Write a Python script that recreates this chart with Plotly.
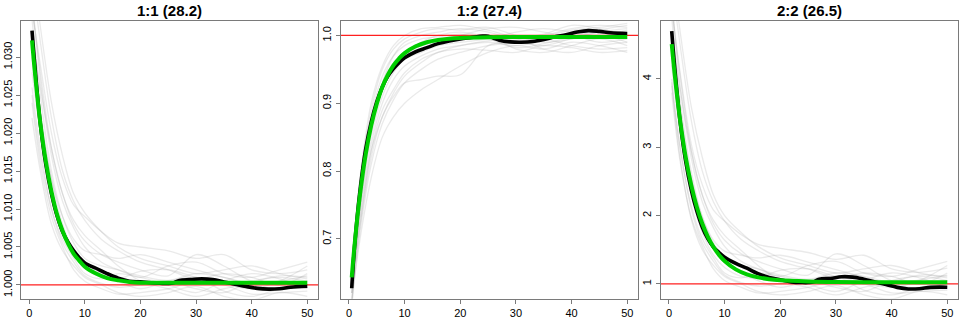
import plotly.graph_objects as go

# ---------------- data ----------------
titles = ["1:1 (28.2)", "1:2 (27.4)", "2:2 (26.5)"]
ref_level = [1.0, 1.0, 1.0]

x_gray = [0.5, 2, 4, 6, 8, 10, 13, 16, 20, 25, 30, 35, 40, 45, 50]

gray_11 = [
    [1.0380, 1.0270, 1.0170, 1.0110, 1.0075, 1.0050, 1.0030, 1.0020, 1.0012, 1.0006, 1.0015, 1.0010, 1.0002, 1.0005, 1.0012],
    [1.0360, 1.0290, 1.0200, 1.0140, 1.0105, 1.0090, 1.0070, 1.0055, 1.0050, 1.0045, 1.0035, 1.0040, 1.0020, 1.0015, 1.0020],
    [1.0300, 1.0220, 1.0140, 1.0090, 1.0060, 1.0045, 1.0040, 1.0035, 1.0040, 1.0030, 1.0020, 1.0010, 1.0000, 0.9995, 1.0000],
    [1.0260, 1.0180, 1.0100, 1.0055, 1.0030, 1.0012, 1.0002, 0.9997, 1.0000, 1.0005, 0.9995, 0.9990, 1.0005, 1.0010, 1.0005],
    [1.0240, 1.0160, 1.0090, 1.0050, 1.0020, 1.0005, 0.9995, 0.9988, 0.9990, 0.9995, 1.0005, 1.0000, 0.9988, 0.9990, 0.9992],
    [1.0400, 1.0320, 1.0220, 1.0150, 1.0110, 1.0085, 1.0060, 1.0045, 1.0030, 1.0020, 1.0008, 1.0015, 1.0010, 1.0000, 1.0015],
    [1.0350, 1.0250, 1.0150, 1.0090, 1.0055, 1.0035, 1.0025, 1.0020, 1.0010, 1.0025, 1.0030, 1.0015, 1.0010, 1.0020, 1.0030],
    [1.0220, 1.0150, 1.0080, 1.0045, 1.0025, 1.0010, 1.0000, 0.9990, 0.9985, 0.9990, 0.9998, 0.9985, 0.9980, 0.9990, 0.9985],
    [1.0330, 1.0260, 1.0180, 1.0120, 1.0080, 1.0058, 1.0040, 1.0030, 1.0020, 1.0012, 1.0040, 1.0025, 1.0005, 1.0000, 1.0005],
    [1.0370, 1.0280, 1.0180, 1.0120, 1.0085, 1.0065, 1.0045, 1.0025, 1.0005, 0.9995, 0.9985, 0.9995, 1.0003, 1.0012, 1.0010],
    [1.0280, 1.0200, 1.0120, 1.0070, 1.0040, 1.0022, 1.0010, 1.0008, 1.0018, 1.0020, 1.0010, 1.0002, 0.9995, 1.0005, 1.0025],
    [1.0420, 1.0340, 1.0240, 1.0170, 1.0120, 1.0095, 1.0070, 1.0050, 1.0035, 1.0025, 1.0015, 1.0020, 1.0025, 1.0015, 1.0008],
    [1.0310, 1.0230, 1.0140, 1.0080, 1.0045, 1.0028, 1.0015, 1.0005, 0.9995, 1.0005, 1.0010, 0.9992, 0.9985, 0.9995, 1.0000],
    [1.0250, 1.0170, 1.0100, 1.0060, 1.0035, 1.0015, 1.0008, 1.0015, 1.0010, 1.0000, 0.9990, 1.0005, 1.0015, 1.0008, 0.9995],
]

gray_12 = [
    [0.600, 0.740, 0.860, 0.930, 0.970, 0.990, 1.000, 1.005, 1.010, 1.005, 0.995, 1.000, 1.010, 1.015, 1.012],
    [0.620, 0.720, 0.820, 0.880, 0.910, 0.930, 0.935, 0.940, 0.942, 0.985, 0.990, 0.985, 0.995, 1.000, 0.990],
    [0.650, 0.780, 0.890, 0.950, 0.980, 0.995, 1.005, 1.010, 1.008, 1.012, 1.000, 0.990, 0.995, 1.005, 1.010],
    [0.610, 0.700, 0.790, 0.850, 0.880, 0.900, 0.920, 0.935, 0.955, 0.975, 0.985, 0.980, 0.990, 0.985, 0.975],
    [0.640, 0.760, 0.860, 0.920, 0.950, 0.970, 0.985, 0.990, 0.995, 1.000, 0.980, 0.975, 0.985, 0.995, 0.985],
    [0.630, 0.750, 0.850, 0.910, 0.945, 0.965, 0.975, 0.985, 0.990, 0.995, 1.005, 1.010, 1.005, 1.000, 1.008],
    [0.660, 0.790, 0.900, 0.955, 0.985, 1.000, 1.010, 1.012, 1.015, 1.008, 0.998, 1.002, 1.015, 1.010, 1.000],
    [0.600, 0.710, 0.810, 0.870, 0.905, 0.930, 0.950, 0.965, 0.975, 0.985, 0.990, 0.995, 0.985, 0.980, 0.982],
    [0.620, 0.740, 0.840, 0.900, 0.935, 0.955, 0.970, 0.980, 0.985, 0.990, 0.985, 0.992, 1.000, 0.990, 0.995],
    [0.640, 0.770, 0.880, 0.940, 0.970, 0.985, 0.995, 0.998, 1.002, 0.995, 0.982, 0.988, 0.998, 1.008, 1.015],
    [0.630, 0.730, 0.830, 0.880, 0.915, 0.940, 0.960, 0.975, 0.980, 0.978, 0.975, 0.985, 0.982, 0.975, 0.978],
    [0.650, 0.770, 0.870, 0.930, 0.960, 0.975, 0.985, 0.995, 1.000, 1.010, 1.012, 1.005, 0.998, 1.005, 1.002],
    [0.610, 0.750, 0.870, 0.920, 0.955, 0.975, 0.990, 1.000, 1.005, 0.998, 0.992, 0.998, 1.008, 1.012, 1.018],
    [0.620, 0.720, 0.830, 0.890, 0.920, 0.945, 0.965, 0.975, 0.985, 0.992, 0.995, 0.980, 0.975, 0.985, 0.990],
]

gray_22 = [
    [5.20, 3.90, 2.85, 2.20, 1.82, 1.55, 1.33, 1.22, 1.13, 1.07, 1.16, 1.11, 1.02, 1.06, 1.13],
    [5.00, 4.10, 3.05, 2.45, 2.08, 1.92, 1.72, 1.58, 1.52, 1.46, 1.36, 1.42, 1.22, 1.17, 1.23],
    [4.40, 3.45, 2.55, 1.98, 1.64, 1.48, 1.42, 1.38, 1.42, 1.32, 1.21, 1.10, 0.99, 0.94, 1.00],
    [3.90, 3.00, 2.10, 1.60, 1.33, 1.13, 1.02, 0.97, 1.00, 1.05, 0.95, 0.89, 1.05, 1.11, 1.05],
    [3.80, 2.80, 1.98, 1.55, 1.22, 1.05, 0.95, 0.87, 0.89, 0.95, 1.05, 1.00, 0.87, 0.89, 0.91],
    [5.40, 4.50, 3.40, 2.65, 2.20, 1.92, 1.65, 1.49, 1.33, 1.22, 1.09, 1.16, 1.11, 1.00, 1.16],
    [4.90, 3.70, 2.65, 1.98, 1.60, 1.38, 1.27, 1.22, 1.11, 1.27, 1.33, 1.16, 1.11, 1.22, 1.33],
    [3.95, 2.85, 1.95, 1.50, 1.27, 1.11, 1.00, 0.89, 0.84, 0.89, 0.98, 0.84, 0.78, 0.89, 0.84],
    [4.70, 3.85, 2.95, 2.30, 1.88, 1.64, 1.44, 1.33, 1.22, 1.13, 1.44, 1.27, 1.05, 1.00, 1.05],
    [5.10, 4.05, 2.95, 2.30, 1.93, 1.71, 1.49, 1.27, 1.05, 0.95, 0.84, 0.95, 1.03, 1.13, 1.11],
    [4.20, 3.20, 2.30, 1.75, 1.42, 1.24, 1.11, 1.09, 1.20, 1.22, 1.11, 1.02, 0.95, 1.05, 1.27],
    [5.60, 4.70, 3.60, 2.85, 2.30, 2.00, 1.75, 1.55, 1.38, 1.27, 1.16, 1.22, 1.27, 1.16, 1.09],
    [4.60, 3.60, 2.55, 1.88, 1.50, 1.31, 1.16, 1.05, 0.95, 1.05, 1.11, 0.91, 0.84, 0.95, 1.00],
    [4.00, 3.00, 2.15, 1.66, 1.38, 1.16, 1.09, 1.16, 1.11, 1.00, 0.89, 1.05, 1.16, 1.09, 0.95],
]

x_green = [0.5, 1, 2, 3, 4, 5, 6, 7, 8, 9, 10, 12, 14, 16, 18, 20, 25, 30, 35, 40, 45, 50]
green_11 = [1.0322, 1.0281, 1.0213, 1.0162, 1.0123, 1.0093, 1.0071, 1.0054, 1.0041, 1.0032, 1.0024,
            1.0015, 1.0009, 1.0006, 1.0004, 1.0003, 1.0003, 1.0003, 1.0003, 1.0003, 1.0003, 1.0003]
green_12 = [0.643, 0.690, 0.766, 0.824, 0.867, 0.899, 0.924, 0.942, 0.956, 0.966, 0.974,
            0.984, 0.990, 0.9933, 0.9952, 0.9962, 0.9973, 0.9976, 0.9976, 0.9976, 0.9976, 0.9976]
green_22 = [4.51, 4.09, 3.40, 2.86, 2.45, 2.13, 1.88, 1.69, 1.54, 1.425, 1.336,
            1.213, 1.14, 1.096, 1.069, 1.054, 1.037, 1.028, 1.025, 1.025, 1.025, 1.025]

x_black = [0.5, 1, 2, 3, 4, 5, 6, 7, 8, 9, 10, 12, 14, 16, 18, 20, 22, 24, 25, 26, 27, 29, 31,
           33, 35, 37, 39, 41, 43, 45, 47, 50]
black_11 = [1.0335, 1.0290, 1.0212, 1.0158, 1.0120, 1.0091, 1.0070, 1.0056, 1.0045, 1.0036, 1.0029,
            1.0022, 1.0015, 1.0009, 1.0005, 1.0004, 1.0003, 1.0002, 1.0002, 1.0003, 1.0006, 1.0007, 1.0008,
            1.0007, 1.0004, 1.0001, 0.9998, 0.99955, 0.99945, 0.9995, 0.9997, 0.99985]
black_12 = [0.627, 0.688, 0.772, 0.832, 0.872, 0.902, 0.924, 0.940, 0.951, 0.960, 0.967,
            0.976, 0.982, 0.988, 0.992, 0.995, 0.997, 0.999, 0.999, 0.996, 0.993, 0.9905, 0.990,
            0.991, 0.994, 0.998, 1.001, 1.005, 1.0072, 1.006, 1.004, 1.003]
black_22 = [4.70, 4.20, 3.38, 2.80, 2.38, 2.07, 1.83, 1.66, 1.54, 1.46, 1.39,
            1.30, 1.23, 1.15, 1.095, 1.06, 1.03, 1.02, 1.02, 1.03, 1.07, 1.08, 1.105,
            1.10, 1.07, 1.03, 0.99, 0.95, 0.927, 0.93, 0.95, 0.952]

x_ticks = [0, 10, 20, 30, 40, 50]
y_ticks = [
    [1.000, 1.005, 1.010, 1.015, 1.020, 1.025, 1.030],
    [0.7, 0.8, 0.9, 1.0],
    [1, 2, 3, 4],
]
y_ticktext = [
    ["1.000", "1.005", "1.010", "1.015", "1.020", "1.025", "1.030"],
    ["0.7", "0.8", "0.9", "1.0"],
    ["1", "2", "3", "4"],
]

grays = [gray_11, gray_12, gray_22]
greens = [green_11, green_12, green_22]
blacks = [black_11, black_12, black_22]

# ---------------- layout config ----------------
W, H = 960, 320
x_domains = [(21.0, 318.3), (340.7, 638.3), (660.7, 958.3)]
y_top, y_bot = 20.7, 298.7
y_ranges = [(0.99819, 1.0348), (0.6116, 1.0218), (0.784, 4.852)]
x_range = [-1.48, 51.98]
BOX = "#7a7a7a"
FONT = "Liberation Sans, Arial, sans-serif"

fig = go.Figure()
layout = dict(
    width=W, height=H, margin=dict(l=0, r=0, t=0, b=0),
    paper_bgcolor="white", plot_bgcolor="white", showlegend=False,
    annotations=[],
)

for i in range(3):
    xa = "x" if i == 0 else f"x{i+1}"
    ya = "y" if i == 0 else f"y{i+1}"
    for g in grays[i]:
        fig.add_trace(go.Scatter(x=x_gray, y=g, mode="lines", xaxis=xa, yaxis=ya,
                                 line=dict(color="rgba(160,160,160,0.22)", width=1.3, shape="spline"),
                                 hoverinfo="skip"))
    # horizontal reference line spanning the full axis range
    fig.add_trace(go.Scatter(x=x_range, y=[ref_level[i]] * 2, mode="lines", xaxis=xa, yaxis=ya,
                             line=dict(color="#FF2020", width=1.2), hoverinfo="skip"))
    fig.add_trace(go.Scatter(x=x_black, y=blacks[i], mode="lines", xaxis=xa, yaxis=ya,
                             line=dict(color="black", width=3.6, shape="spline")))
    fig.add_trace(go.Scatter(x=x_green, y=greens[i], mode="lines", xaxis=xa, yaxis=ya,
                             line=dict(color="#00CD00", width=4, shape="spline")))

    d0, d1 = x_domains[i]
    common = dict(showline=True, linecolor=BOX, linewidth=1, mirror=True,
                  showgrid=False, zeroline=False, ticks="outside", ticklen=4,
                  tickcolor=BOX, tickwidth=1,
                  tickfont=dict(family=FONT, size=11, color="black"))
    layout["xaxis" if i == 0 else f"xaxis{i+1}"] = dict(
        domain=[d0 / W, d1 / W], range=list(x_range), anchor=ya,
        tickvals=x_ticks, **common)
    layout["yaxis" if i == 0 else f"yaxis{i+1}"] = dict(
        domain=[(H - y_bot) / H, (H - y_top) / H], range=list(y_ranges[i]), anchor=xa,
        tickvals=y_ticks[i], ticktext=y_ticktext[i], tickangle=-90, **common)
    layout["annotations"].append(dict(text=f"<b>{titles[i]}</b>", xref="paper", yref="paper",
                                      x=(d0 + d1) / 2 / W, y=(H - 10.5) / H,
                                      xanchor="center", yanchor="middle", showarrow=False,
                                      font=dict(family=FONT, size=15, color="black")))

fig.update_layout(**layout)
fig.write_html("out.html")
